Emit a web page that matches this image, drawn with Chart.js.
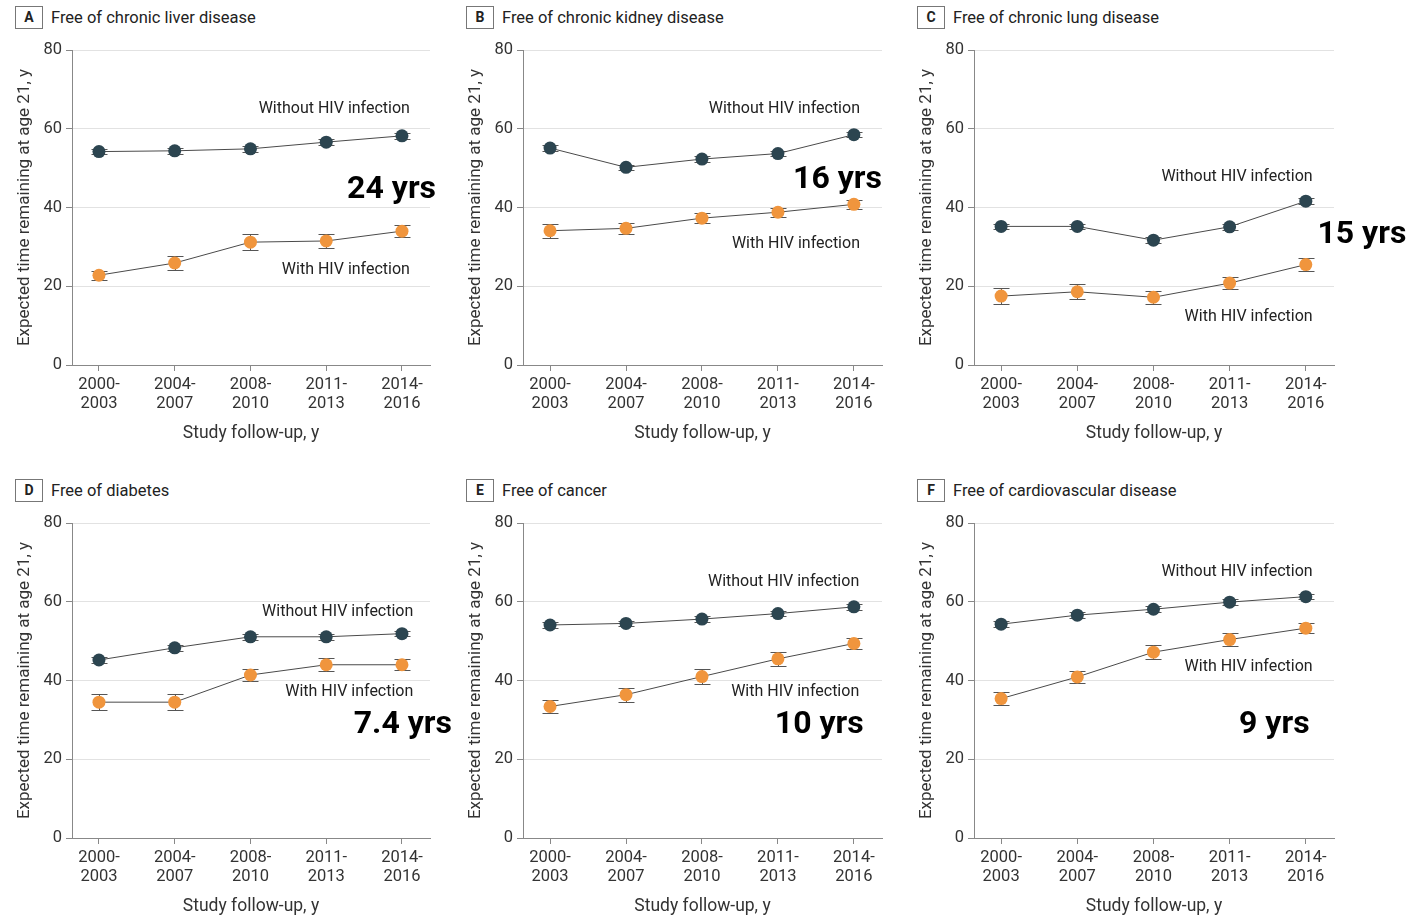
<!DOCTYPE html>
<html>
<head>
<meta charset="utf-8">
<script src="https://cdn.jsdelivr.net/npm/chart.js@4"></script>
<style>
    body { margin: 0; background: #fff; width: 1415px; height: 915px; overflow: hidden; position: relative; font-family: Roboto, sans-serif; }
    canvas { position: absolute; }
    .panel-title { position: absolute; font-size: 16.5px; color: #222; display: flex; align-items: center; white-space: nowrap; }
    .panel-title .tag { display: inline-block; width: 26px; height: 21px; border: 1px solid #777; text-align: center; line-height: 21px; font-weight: bold; font-size: 14px; margin-right: 8px; }
</style>
</head>
<body>
<script>
// Data
const categories = [['2000-', '2003'], ['2004-', '2007'], ['2008-', '2010'], ['2011-', '2013'], ['2014-', '2016']];

const liverWithout = [54.2, 54.4, 54.9, 56.6, 58.2];
const liverWith = [22.8, 25.9, 31.2, 31.5, 34.0];
const liverWithErr = [1.2, 1.8, 2.0, 1.7, 1.6];

const kidneyWithout = [55.1, 50.2, 52.3, 53.7, 58.5];
const kidneyWith = [34.1, 34.7, 37.3, 38.8, 40.8];
const kidneyWithErr = [1.8, 1.4, 1.2, 1.2, 1.1];

const lungWithout = [35.2, 35.2, 31.7, 35.1, 41.6];
const lungWith = [17.5, 18.6, 17.2, 20.8, 25.5];
const lungWithErr = [2.1, 1.9, 1.7, 1.6, 1.7];

const diabetesWithout = [45.2, 48.3, 51.1, 51.1, 51.9];
const diabetesWith = [34.5, 34.5, 41.4, 44.0, 44.0];
const diabetesWithErr = [2.1, 2.1, 1.6, 1.6, 1.4];

const cancerWithout = [54.1, 54.5, 55.6, 57.0, 58.7];
const cancerWith = [33.4, 36.4, 41.0, 45.5, 49.4];
const cancerWithErr = [1.7, 1.8, 2.0, 1.7, 1.5];

const cvdWithout = [54.3, 56.6, 58.1, 59.9, 61.3];
const cvdWith = [35.4, 40.9, 47.2, 50.4, 53.3];
const cvdWithErr = [1.6, 1.6, 1.8, 1.7, 1.2];

const withoutErr = [0.7, 0.7, 0.7, 0.7, 0.7];
const gapLabels = ['24 yrs', '16 yrs', '15 yrs', '7.4 yrs', '10 yrs', '9 yrs'];

// Panels: data + where the text labels sit (in axis units)
const panels = [
    { tag: 'A', title: 'Free of chronic liver disease', without: liverWithout, withHiv: liverWith, err: liverWithErr,
      left: 0, top: 35, width: 451, padRight: 21, labels: { wo: [4.105, 65.0], w: [4.105, 24.1], gap: [4.45, 44.4] } },
    { tag: 'B', title: 'Free of chronic kidney disease', without: kidneyWithout, withHiv: kidneyWith, err: kidneyWithErr,
      left: 451, top: 35, width: 451, padRight: 20, labels: { wo: [4.08, 65.0], w: [4.08, 30.7], gap: [4.37, 47.0] } },
    { tag: 'C', title: 'Free of chronic lung disease', without: lungWithout, withHiv: lungWith, err: lungWithErr,
      left: 902, top: 35, width: 513, padRight: 81, labels: { wo: [4.09, 47.7], w: [4.09, 12.2], gap: [5.32, 33.0] } },
    { tag: 'D', title: 'Free of diabetes', without: diabetesWithout, withHiv: diabetesWith, err: diabetesWithErr,
      left: 0, top: 508, width: 451, padRight: 21, labels: { wo: [4.15, 57.4], w: [4.15, 37.1], gap: [4.66, 28.7] } },
    { tag: 'E', title: 'Free of cancer', without: cancerWithout, withHiv: cancerWith, err: cancerWithErr,
      left: 451, top: 508, width: 451, padRight: 20, labels: { wo: [4.07, 65.0], w: [4.07, 37.1], gap: [4.13, 28.7] } },
    { tag: 'F', title: 'Free of cardiovascular disease', without: cvdWithout, withHiv: cvdWith, err: cvdWithErr,
      left: 902, top: 508, width: 513, padRight: 81, labels: { wo: [4.09, 67.6], w: [4.09, 43.4], gap: [4.05, 28.7] } }
];

// error bars, drawn under the points
const errorBars = {
    id: 'errorBars',
    beforeDatasetsDraw(chart) {
        const { ctx, scales } = chart;
        ctx.save();
        ctx.strokeStyle = '#555';
        ctx.lineWidth = 1;
        chart.data.datasets.forEach(ds => {
            ds.data.forEach((p, i) => {
                const x = Math.round(scales.x.getPixelForValue(p.x)) + 0.5;
                const y1 = Math.round(scales.y.getPixelForValue(p.y - ds.errors[i])) + 0.5;
                const y2 = Math.round(scales.y.getPixelForValue(p.y + ds.errors[i])) + 0.5;
                ctx.beginPath();
                ctx.moveTo(x, y1); ctx.lineTo(x, y2);
                ctx.moveTo(x - 8, y1); ctx.lineTo(x + 8, y1);
                ctx.moveTo(x - 8, y2); ctx.lineTo(x + 8, y2);
                ctx.stroke();
            });
        });
        ctx.restore();
    }
};

// series labels and the big gap label
const textLabels = {
    id: 'textLabels',
    afterDraw(chart) {
        const { ctx, scales } = chart;
        const lab = chart.options.plugins.textLabels;
        const px = pos => [scales.x.getPixelForValue(pos[0]), scales.y.getPixelForValue(pos[1])];
        ctx.save();
        ctx.textAlign = 'right';
        ctx.textBaseline = 'middle';
        ctx.fillStyle = '#222';
        ctx.font = '16px Roboto';
        let [x, y] = px(lab.wo);
        ctx.fillText('Without HIV infection', x, y);
        [x, y] = px(lab.w);
        ctx.fillText('With HIV infection', x, y);
        ctx.fillStyle = '#000';
        ctx.font = 'bold 32px Roboto';
        [x, y] = px(lab.gap);
        ctx.fillText(lab.gapText, x, y);
        ctx.restore();
    }
};

panels.forEach((p, idx) => {
    const title = document.createElement('div');
    title.className = 'panel-title';
    title.style.left = (p.left + 15) + 'px';
    title.style.top = (p.top - 29) + 'px';
    title.innerHTML = '<span class="tag">' + p.tag + '</span>' + p.title;
    document.body.appendChild(title);

    const canvas = document.createElement('canvas');
    canvas.width = p.width;
    canvas.height = 413;
    canvas.style.left = p.left + 'px';
    canvas.style.top = p.top + 'px';
    document.body.appendChild(canvas);

    new Chart(canvas.getContext('2d'), {
        type: 'line',
        data: {
            datasets: [
                {
                    label: 'Without HIV infection',
                    data: p.without.map((v, i) => ({ x: i, y: v })),
                    errors: withoutErr,
                    borderColor: '#4a4a4a', borderWidth: 1,
                    pointRadius: 6.5, pointBackgroundColor: '#2c4550', pointBorderColor: '#2c4550', pointBorderWidth: 0
                },
                {
                    label: 'With HIV infection',
                    data: p.withHiv.map((v, i) => ({ x: i, y: v })),
                    errors: p.err,
                    borderColor: '#4a4a4a', borderWidth: 1,
                    pointRadius: 6.5, pointBackgroundColor: '#f0953d', pointBorderColor: '#f0953d', pointBorderWidth: 0
                }
            ]
        },
        options: {
            responsive: false,
            animation: false,
            devicePixelRatio: 1,
            layout: { padding: { left: 12, right: p.padRight, top: 15, bottom: 0 } },
            plugins: {
                legend: { display: false },
                tooltip: { enabled: false },
                textLabels: Object.assign({ gapText: gapLabels[idx] }, p.labels)
            },
            scales: {
                x: {
                    type: 'linear',
                    min: -0.356, max: 4.37,
                    afterBuildTicks: s => { s.ticks = categories.map((c, i) => ({ value: i })); },
                    afterFit: s => { s.height = 83; },
                    ticks: {
                        callback: v => categories[v],
                        color: '#333', font: { family: 'Roboto', size: 16.5, lineHeight: 1.17 }, padding: 4, maxRotation: 0
                    },
                    grid: { drawOnChartArea: false, tickLength: 6, color: '#888' },
                    border: { color: '#888' },
                    title: { display: true, text: 'Study follow-up, y', color: '#333', font: { family: 'Roboto', size: 17.5 }, padding: { top: 5 } }
                },
                y: {
                    min: 0, max: 80,
                    afterFit: s => { s.width = 60; },
                    ticks: { stepSize: 20, color: '#333', font: { family: 'Roboto', size: 16.5 }, padding: 4 },
                    grid: { color: '#e2e2e2', tickLength: 6, tickColor: '#888' },
                    border: { color: '#888' },
                    title: { display: true, text: 'Expected time remaining at age 21, y', color: '#333', font: { family: 'Roboto', size: 17 }, padding: { top: 3, bottom: 0 } }
                }
            }
        },
        plugins: [errorBars, textLabels]
    });
});
</script>
</body>
</html>
